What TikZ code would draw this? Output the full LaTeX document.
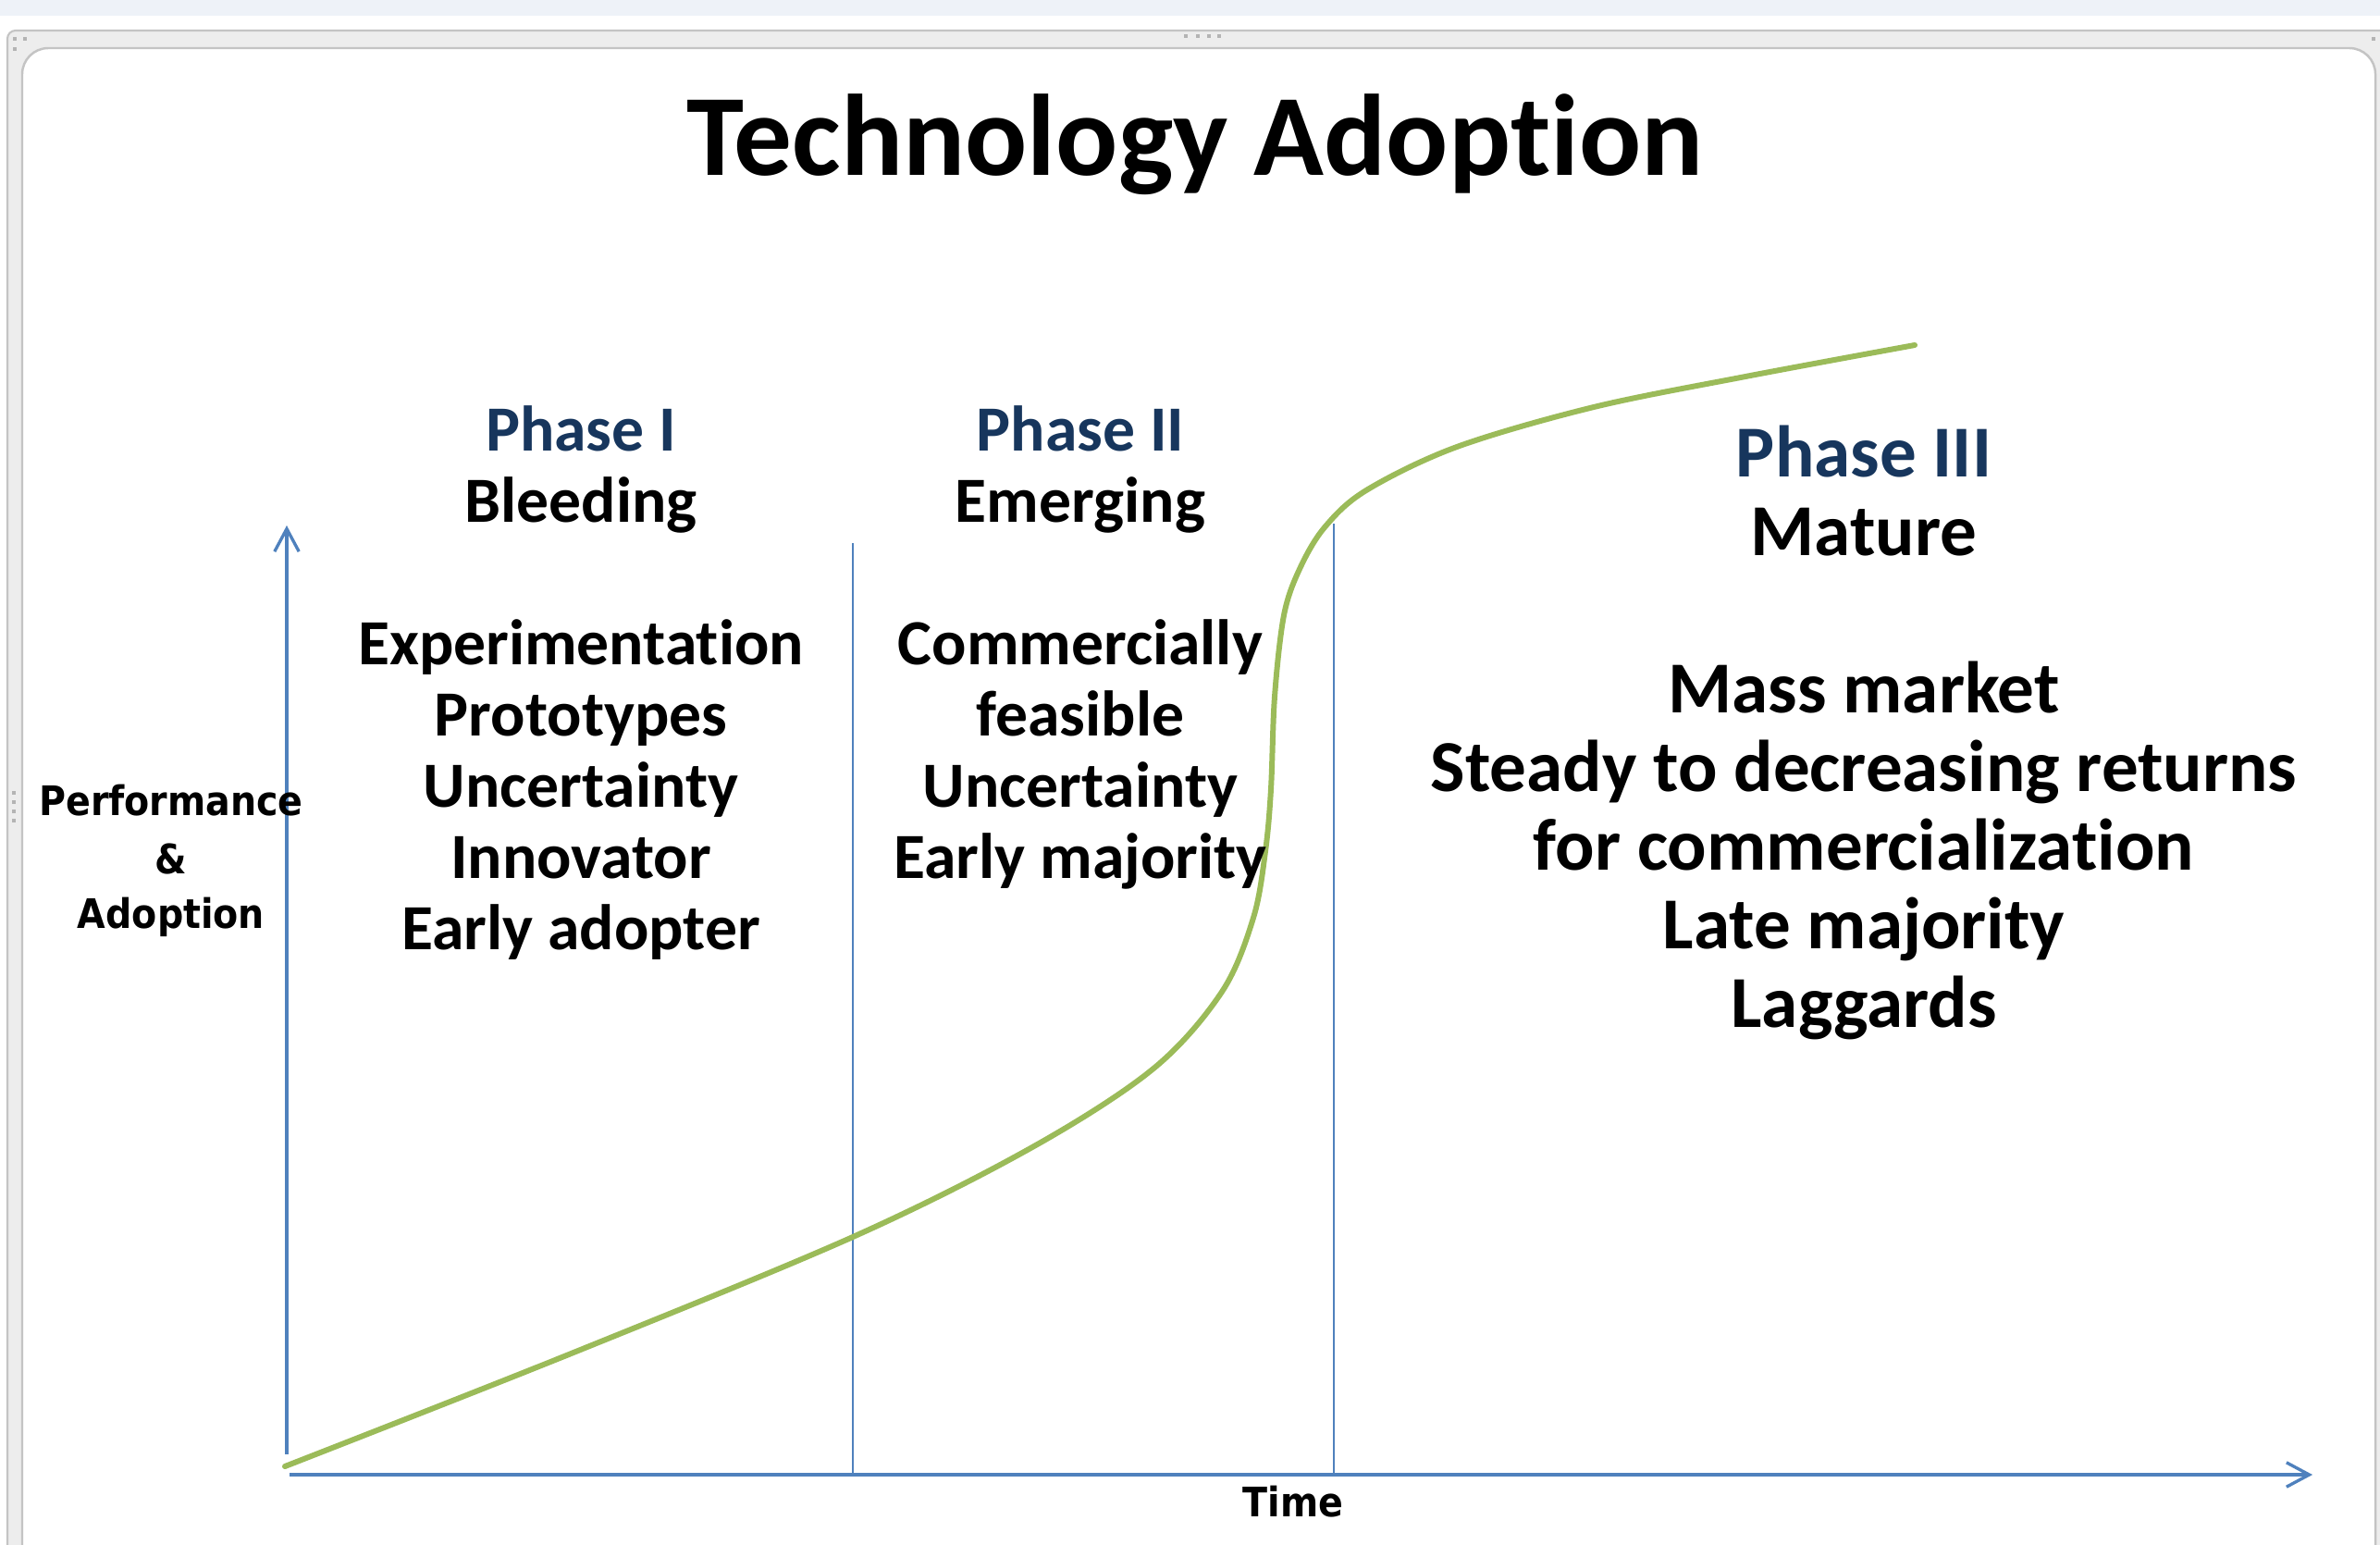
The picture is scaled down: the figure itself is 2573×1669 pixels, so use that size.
\documentclass[tikz,border=0pt]{standalone}
\usepackage{fontspec}
\setmainfont[Ligatures=NoCommon]{Carlito}
\newfontfamily\axisfont[FakeStretch=0.9]{DejaVu Sans}
\usetikzlibrary{arrows.meta}

\definecolor{axisblue}{HTML}{4F81BD}
\definecolor{curvegreen}{HTML}{9BBB59}
\definecolor{phaseblue}{HTML}{17365D}
\definecolor{topband}{HTML}{EEF2F8}
\definecolor{framefill}{HTML}{EDEDED}
\definecolor{frameline}{HTML}{C4C4C4}
\definecolor{gripgray}{HTML}{B4B4B4}

\begin{document}
\begin{tikzpicture}[x=0.01cm, y=-0.01cm,
  titletext/.style={font=\fontsize{35.6}{40}\selectfont\bfseries, anchor=base, inner sep=0},
  phasehead/.style={font=\fontsize{19.8}{22}\selectfont\bfseries, text=phaseblue, anchor=base, inner sep=0},
  phaseline/.style={font=\fontsize{19.8}{22}\selectfont\bfseries, anchor=base, inner sep=0},
  maturehead/.style={font=\fontsize{22.5}{25}\selectfont\bfseries, text=phaseblue, anchor=base, inner sep=0},
  matureline/.style={font=\fontsize{22.5}{25}\selectfont\bfseries, anchor=base, inner sep=0},
  axislabel/.style={font=\axisfont\fontsize{12.5}{14}\selectfont\bfseries, anchor=base, inner sep=0},
  axisline/.style={draw=axisblue, line width=0.95pt, -{Straight Barb[length=7pt,width=7.5pt]}},
  divider/.style={draw=axisblue, line width=0.8pt},
  scurve/.style={draw=curvegreen, line width=1.7pt, line cap=round},
  grip/.style={fill=gripgray}
]
\useasboundingbox (0,0) rectangle (2573,1669);

% window chrome
\fill[topband] (0,0) rectangle (2573,17);
\begin{scope}
  \clip (0,0) rectangle (2573,1669);
  \draw[frameline, fill=framefill, line width=0.6pt, rounded corners=2.5pt] (8,33) rectangle (2620,1720);
  \draw[frameline, fill=white, line width=0.7pt, rounded corners=8pt] (24,52) rectangle (2568,1720);
\end{scope}
\foreach \gx in {1282,1295,1307,1318} \fill[grip] (\gx-2,37) rectangle (\gx+2,41);
\foreach \gy in {857,867,877,887} \fill[grip] (13,\gy-2) rectangle (17,\gy+2);
\fill[grip] (14,40) rectangle (18,44);
\fill[grip] (25,40) rectangle (29,44);
\fill[grip] (14,51) rectangle (18,55);
\fill[grip] (2564,40) rectangle (2568,44);

% title
\node[titletext] (title) at (1292,189) {Technology Adoption};

% axes
\coordinate (ybot) at (310,1572);
\coordinate (ytop) at (310,568);
\coordinate (xleft) at (313,1594);
\coordinate (xright) at (2500,1594);
\draw[axisline] (ybot) -- (ytop);
\draw[axisline] (xleft) -- (xright);

% phase dividers
\coordinate (d1top) at (922,587);
\coordinate (d1bot) at (922,1594);
\coordinate (d2top) at (1442,566);
\coordinate (d2bot) at (1442,1594);
\draw[divider] (d1top) -- (d1bot);
\draw[divider] (d2top) -- (d2bot);

% adoption curve
\draw[scurve] plot[smooth, tension=0.55] coordinates {
  (308,1585) (615,1464) (922,1337) (1116,1240) (1247,1155) (1321,1072)
  (1355,992) (1368,920) (1374,853) (1378,753) (1388,665) (1405,615)
  (1432,570) (1477,530) (1575,483) (1723,440) (1887,407) (2070,373)};

% axis labels
\node[axislabel] (perf) at (185,881) {Performance};
\node[axislabel] (amp) at (185,944) {\&};
\node[axislabel] (adopt) at (185,1003) {Adoption};
\node[axislabel] (time) at (1398,1639) {Time};

% phase I
\node[phasehead] (p1a) at (628,487) {Phase I};
\node[phaseline] (p1b) at (628,564) {Bleeding};
\node[phaseline] (p1c) at (628,718) {Experimentation};
\node[phaseline] (p1d) at (628,795) {Prototypes};
\node[phaseline] (p1e) at (628,872) {Uncertainty};
\node[phaseline] (p1f) at (628,949) {Innovator};
\node[phaseline] (p1g) at (628,1026) {Early adopter};

% phase II
\node[phasehead] (p2a) at (1168,487) {Phase II};
\node[phaseline] (p2b) at (1168,564) {Emerging};
\node[phaseline] (p2c) at (1168,718) {Commercially};
\node[phaseline] (p2d) at (1168,795) {feasible};
\node[phaseline] (p2e) at (1168,872) {Uncertainty};
\node[phaseline] (p2f) at (1168,949) {Early majority};

% phase III
\node[maturehead] (p3a) at (2015,515) {Phase III};
\node[matureline] (p3b) at (2015,600) {Mature};
\node[matureline] (p3c) at (2015,770) {Mass market};
\node[matureline] (p3d) at (2015,855) {Steady to decreasing returns};
\node[matureline] (p3e) at (2015,940) {for commercialization};
\node[matureline] (p3f) at (2015,1025) {Late majority};
\node[matureline] (p3g) at (2015,1110) {Laggards};
\end{tikzpicture}
\end{document}
